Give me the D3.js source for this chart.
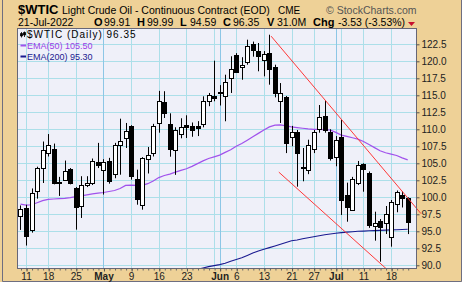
<!DOCTYPE html>
<html>
<head>
<meta charset="utf-8">
<script src="https://cdn.jsdelivr.net/npm/d3@7"></script>
<style>
  body { margin: 0; background: #fff; }
  text { font-family: "Liberation Sans", Arial, sans-serif; }
</style>
</head>
<body>
<div id="container"></div>
<script>
// daily bars, 8-Apr-2022 .. 21-Jul-2022 (trading days only)
const dates = ["Apr 8","Apr 11","Apr 12","Apr 13","Apr 14","Apr 18","Apr 19","Apr 20","Apr 21","Apr 22",
  "Apr 25","Apr 26","Apr 27","Apr 28","Apr 29","May 2","May 3","May 4","May 5","May 6",
  "May 9","May 10","May 11","May 12","May 13","May 16","May 17","May 18","May 19","May 20",
  "May 23","May 24","May 25","May 26","May 27","May 31","Jun 1","Jun 2","Jun 3","Jun 6",
  "Jun 7","Jun 8","Jun 9","Jun 10","Jun 13","Jun 14","Jun 15","Jun 16","Jun 17","Jun 21",
  "Jun 22","Jun 23","Jun 24","Jun 27","Jun 28","Jun 29","Jun 30","Jul 1","Jul 5","Jul 6",
  "Jul 7","Jul 8","Jul 11","Jul 12","Jul 13","Jul 14","Jul 15","Jul 18","Jul 19","Jul 20","Jul 21"];

const opens = [97.15, 98.45, 95.1, 100.85, 104.3, 106.45, 107.15, 102.3, 102.5, 104.12,
  101.32, 98.68, 101.76, 102.06, 105.15, 103.91, 105.29, 103.47, 107.65, 108.72,
  110.44, 102.69, 98.91, 105.63, 106.51, 110.97, 114.01, 110.78, 106.9, 109.31,
  110.59, 110.53, 110.44, 110.68, 114.2, 114.94, 115.43, 114.85, 117.54, 120.99,
  119.16, 119.85, 122.5, 121.47, 120.24, 121.22, 119.1, 114.12, 114.71, 108.82,
  109.56, 104.45, 103.91, 107.1, 110.04, 111.96, 109.65, 105.97, 108.82, 100.34,
  98.24, 102.21, 104.85, 103.53, 95.82, 96.51, 96.26, 94.21, 99.06, 100.34, 99.91];
const highs = [98.8, 98.9, 101.3, 104.5, 108.2, 109.3, 107.9, 103.0, 105.4, 104.3,
  101.5, 103.1, 103.1, 105.7, 108.0, 105.6, 105.8, 108.0, 111.56, 110.93,
  110.6, 104.06, 105.9, 107.4, 110.8, 115.65, 115.6, 112.35, 110.3, 111.62,
  112.06, 111.0, 111.2, 114.85, 115.34, 120.09, 116.5, 118.03, 120.74, 121.2,
  120.6, 123.18, 122.9, 122.69, 121.5, 123.91, 119.5, 116.8, 114.9, 110.5,
  109.9, 107.25, 108.47, 109.9, 113.57, 114.31, 110.0, 109.0, 111.5, 102.15,
  103.0, 105.34, 105.0, 103.8, 97.88, 96.8, 98.72, 99.6, 101.0, 100.9, 99.99];
const lows = [95.2, 92.9, 94.8, 99.8, 102.1, 106.0, 101.9, 100.2, 102.4, 101.9,
  95.24, 96.96, 101.5, 101.8, 104.3, 100.4, 102.0, 102.8, 103.32, 107.25,
  102.6, 98.91, 98.18, 103.5, 106.0, 109.5, 111.66, 105.97, 103.3, 108.68,
  108.72, 108.9, 109.0, 110.29, 113.4, 114.12, 113.5, 111.18, 115.34, 118.28,
  117.29, 119.5, 120.68, 118.53, 117.79, 116.56, 114.7, 110.93, 106.5, 107.5,
  101.56, 102.35, 103.4, 106.5, 109.5, 109.5, 105.4, 104.56, 97.4, 96.41,
  98.0, 101.8, 100.82, 95.5, 93.62, 90.53, 94.6, 92.74, 97.8, 98.5, 94.59];
const closes = [98.24, 94.26, 100.6, 104.28, 106.91, 107.65, 102.1, 102.12, 103.82, 102.06,
  98.53, 101.76, 102.1, 105.29, 104.65, 105.15, 102.3, 107.76, 108.24, 109.8,
  103.09, 99.7, 105.76, 106.17, 110.5, 114.2, 112.45, 107.06, 109.9, 110.29,
  110.29, 109.94, 110.2, 114.1, 115.09, 114.71, 115.29, 116.9, 118.91, 118.53,
  119.42, 122.21, 121.65, 120.74, 121.07, 118.91, 115.3, 115.34, 107.99, 109.56,
  106.4, 104.3, 107.62, 109.57, 111.76, 109.94, 105.76, 108.4, 99.5, 98.53,
  102.76, 104.82, 104.1, 95.84, 96.28, 95.7, 97.52, 99.38, 100.76, 99.88, 96.35];

// overlays, one value per bar
const ema50 = [99.0, 98.85, 98.9, 99.2, 99.5, 99.7, 99.75, 99.8, 99.85, 99.95,
  100.1, 100.2, 100.35, 100.5, 100.6, 100.7, 100.85, 101.0, 101.3, 101.75,
  101.8, 101.75, 101.75, 102.0, 102.4, 102.9, 103.2, 103.4, 103.7, 103.95,
  104.2, 104.55, 104.95, 105.35, 105.7, 105.95, 106.2, 106.6, 107.0, 107.5,
  107.9, 108.4, 108.9, 109.4, 109.9, 110.35, 110.6, 110.65, 110.5, 110.35,
  110.25, 110.15, 110.05, 110.0, 110.0, 109.95, 109.9, 109.55, 109.15, 108.95,
  108.75, 108.55, 108.2, 107.75, 107.3, 106.85, 106.55, 106.35, 106.15, 105.8, 105.5];
const ema200Start = 32; // earlier values sit below the visible range
const ema200 = [89.4, 89.6, 89.8, 89.95, 90.1, 90.3, 90.6, 90.85, 91.1, 91.45,
  91.8, 92.1, 92.35, 92.6, 92.85, 93.1, 93.35, 93.6, 93.72, 93.9,
  94.05, 94.2, 94.35, 94.5, 94.6, 94.7, 94.8, 94.87, 94.94, 95.0,
  95.03, 95.07, 95.1, 95.13, 95.17, 95.2, 95.23, 95.27, 95.3];

// hand-drawn trend lines: [bar index, price]
const upperTrend = [[45.3, 123.7], [72.4, 97.6]];
const lowerTrend = [[46.7, 103.7], [67.0, 88.85]];

const yTicks = [90.0, 92.5, 95.0, 97.5, 100.0, 102.5, 105.0, 107.5, 110.0, 112.5, 115.0, 117.5, 120.0, 122.5];
const weekStarts = [1, 5, 10, 15, 20, 25, 30, 35, 39, 44, 49, 53, 58, 62, 67];
const monthStarts = [15, 36, 57];
const xLabels = [[1, "11"], [5, "18"], [10, "25"], [15, "May"], [20, "9"], [25, "16"], [30, "23"],
  [36, "Jun"], [39, "6"], [44, "13"], [49, "21"], [53, "27"], [57, "Jul"], [62, "11"], [67, "18"]];

const quote = [["O", "99.91"], ["H", "99.99"], ["L", "94.59"], ["C", "96.35"], ["V", "31.0M"], ["Chg", "-3.53 (-3.53%)"]];

const width = 465, height = 285;
const plot = {left: 18, right: 416, top: 29, bottom: 268};

const svg = d3.select("#container").append("svg")
  .attr("width", width)
  .attr("height", height);

// frame
svg.append("rect").attr("x", 0).attr("y", 0).attr("width", 462).attr("height", 282).attr("fill", "#eed197");
svg.append("path").attr("d", "M2.5,0V281.5H461.5V0").attr("fill", "none").attr("stroke", "#6e6e80");

const x = d3.scaleLinear().domain([-0.45, 71.5]).range([plot.left, plot.right]);
const y = d3.scaleLinear().domain([89.6, 124.75]).range([plot.bottom, plot.top]);
const px = v => Math.round(v) + 0.5;

svg.append("rect")
  .attr("x", plot.left).attr("y", plot.top)
  .attr("width", plot.right - plot.left).attr("height", plot.bottom - plot.top)
  .attr("fill", "#eff0f9");

svg.append("clipPath").attr("id", "clip").append("rect")
  .attr("x", plot.left).attr("y", plot.top)
  .attr("width", plot.right - plot.left).attr("height", plot.bottom - plot.top);

// grid
const grid = svg.append("g");
grid.selectAll(".hg").data(yTicks).enter().append("line")
  .attr("x1", plot.left).attr("x2", plot.right)
  .attr("y1", d => px(y(d))).attr("y2", d => px(y(d)))
  .attr("stroke", "#acdfe9");
grid.selectAll(".vg").data(weekStarts.filter(d => !monthStarts.includes(d))).enter().append("line")
  .attr("x1", d => px(x(d))).attr("x2", d => px(x(d)))
  .attr("y1", plot.top).attr("y2", plot.bottom)
  .attr("stroke", "#acdfe9");
grid.selectAll(".mg").data(monthStarts).enter().append("line")
  .attr("x1", d => px(x(d))).attr("x2", d => px(x(d)))
  .attr("y1", plot.top).attr("y2", plot.bottom)
  .attr("stroke", "#8cc6e6");

const inner = svg.append("g").attr("clip-path", "url(#clip)");

// moving averages
const line = d3.line().x(d => x(d[0])).y(d => y(d[1]));
inner.append("path")
  .attr("d", line(ema50.map((v, i) => [i, v])))
  .attr("fill", "none").attr("stroke", "#a152ec").attr("stroke-width", 1.2);
inner.append("path")
  .attr("d", line(ema200.map((v, i) => [i + ema200Start, v])))
  .attr("fill", "none").attr("stroke", "#1a1a90").attr("stroke-width", 1.1);

// candles
const bars = dates.map((d, i) => ({i, o: opens[i], h: highs[i], l: lows[i], c: closes[i]}));
const candle = inner.selectAll(".candle").data(bars).enter().append("g");
candle.append("line")
  .attr("x1", d => px(x(d.i))).attr("x2", d => px(x(d.i)))
  .attr("y1", d => y(d.h)).attr("y2", d => y(d.l))
  .attr("stroke", "#000");
candle.append("rect")
  .attr("x", d => px(x(d.i)) - 2)
  .attr("y", d => Math.round(y(Math.max(d.o, d.c))) + 0.5)
  .attr("width", 4)
  .attr("height", d => Math.max(1, Math.round(Math.abs(y(d.o) - y(d.c)))))
  .attr("fill", d => d.c >= d.o ? "#fff" : "#000")
  .attr("stroke", "#000");

// trend lines
inner.append("path").attr("d", line(lowerTrend))
  .attr("fill", "none").attr("stroke", "#ff3838");
svg.append("path").attr("d", line(upperTrend))
  .attr("fill", "none").attr("stroke", "#ff3838");

svg.append("rect")
  .attr("x", plot.left - 0.5).attr("y", plot.top - 0.5)
  .attr("width", plot.right - plot.left + 1).attr("height", plot.bottom - plot.top + 1)
  .attr("fill", "none").attr("stroke", "#666677");

// right axis
const yAxis = svg.append("g")
  .attr("transform", `translate(${plot.right + 0.5},0)`)
  .call(d3.axisRight(y).tickValues(yTicks).tickFormat(d3.format(".1f")).tickSize(3).tickPadding(2));
yAxis.select(".domain").remove();
yAxis.selectAll("line").attr("stroke", "#555");
yAxis.selectAll("text").attr("font-size", 10).attr("fill", "#222").attr("font-family", "Liberation Sans, Arial, sans-serif");

// bottom axis: a small tick for every day, labels at week/month starts
const xDays = svg.append("g")
  .attr("transform", `translate(0,${plot.bottom + 0.5})`)
  .call(d3.axisBottom(x).tickValues(d3.range(dates.length)).tickFormat("").tickSize(2));
xDays.select(".domain").remove();
xDays.selectAll("line").attr("stroke", "#666").attr("transform", "translate(0.5,0)");

const labelMap = new Map(xLabels);
const xAxis = svg.append("g")
  .attr("transform", `translate(0,${plot.bottom + 0.5})`)
  .call(d3.axisBottom(x).tickValues(xLabels.map(d => d[0])).tickFormat(d => labelMap.get(d)).tickSize(3).tickPadding(1.5));
xAxis.select(".domain").remove();
xAxis.selectAll("line").attr("stroke", "#555").attr("transform", "translate(0.5,0)");
xAxis.selectAll("text")
  .attr("font-size", 10).attr("fill", "#222")
  .attr("font-family", "Liberation Sans, Arial, sans-serif")
  .attr("font-weight", d => monthStarts.includes(d) ? "bold" : null);

// title block
const head = svg.append("g");
head.append("text").attr("x", 18).attr("y", 13.5).attr("font-size", 13).attr("font-weight", "bold").text("$WTIC");
head.append("text").attr("x", 62).attr("y", 13.5).attr("font-size", 10.5).text("Light Crude Oil - Continuous Contract (EOD)");
head.append("text").attr("x", 278).attr("y", 13.5).attr("font-size", 10).text("CME");
head.append("text").attr("x", 326).attr("y", 13.5).attr("font-size", 10.5).attr("fill", "#555").text("\u00a9 StockCharts.com");

head.append("text").attr("x", 18).attr("y", 26).attr("font-size", 10.5).text("21-Jul-2022");
const quoteX = [[94, 104], [137, 147], [180, 190], [223, 233], [267, 277], [313, 338]];
quote.forEach((q, k) => {
  head.append("text").attr("x", quoteX[k][0]).attr("y", 26).attr("font-size", 11).attr("font-weight", "bold").text(q[0]);
  head.append("text").attr("x", quoteX[k][1]).attr("y", 26).attr("font-size", 10.5).text(q[1]);
});
head.append("path").attr("d", "M408,22H415L411.5,26Z").attr("fill", "#c8102e");

// legend
const leg = svg.append("g").attr("font-family", "DejaVu Sans, Verdana, sans-serif");
leg.append("path").attr("d", "M21.5,32V37.5M24.5,31.5V37M20.5,33.5H22.5V36H20.5ZM23.5,32.5H25.5V35H23.5Z")
  .attr("stroke", "#000").attr("fill", "#000").attr("stroke-width", 0.8);
leg.append("text").attr("x", 27).attr("y", 38.3).attr("font-size", 10).attr("letter-spacing", 1).text("$WTIC (Daily) 96.35");
leg.append("line").attr("x1", 20.5).attr("x2", 26).attr("y1", 45.5).attr("y2", 45.5).attr("stroke", "#a152ec").attr("stroke-width", 2);
leg.append("text").attr("x", 27).attr("y", 49.3).attr("font-size", 9).attr("fill", "#9a40e6").text("EMA(50) 105.50");
leg.append("line").attr("x1", 20.5).attr("x2", 26).attr("y1", 56.5).attr("y2", 56.5).attr("stroke", "#1a1a90").attr("stroke-width", 2);
leg.append("text").attr("x", 27).attr("y", 60.3).attr("font-size", 9).attr("fill", "#1a1a90").text("EMA(200) 95.30");
</script>
</body>
</html>
